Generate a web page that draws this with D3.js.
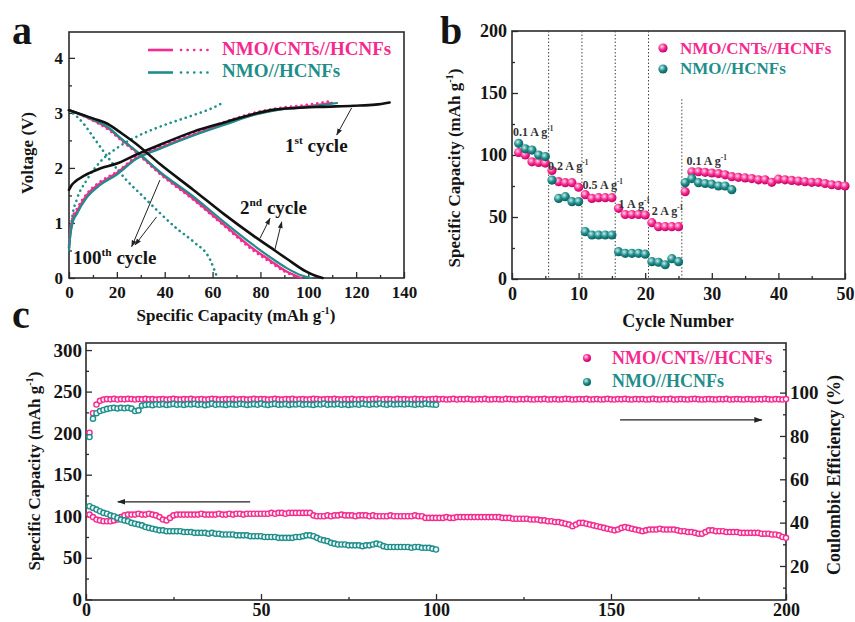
<!DOCTYPE html>
<html><head><meta charset="utf-8">
<script src="https://cdn.jsdelivr.net/npm/d3@7"></script>
<style>body{margin:0;background:#fff}svg{display:block}text{font-family:'Liberation Serif','Times New Roman',serif;font-weight:bold}</style>
</head><body><svg id="chart" width="855" height="622"></svg>
<script>
// ---------------- Panel a data (capacity mAh/g, voltage V) ----------------
const aXTicks=[0,20,40,60,80,100,120,140], aXMinor=[10,30,50,70,90,110,130];
const aYTicks=[0,1,2,3,4], aYMinor=[0.5,1.5,2.5,3.5];
const blackCharge=[[0,1.6],[1,1.68],[2.5,1.75],[6,1.85],[13,1.99],[20,2.08],[28,2.24],[38,2.42],[52,2.66],[66,2.84],[78,2.99],[86,3.06],[95,3.09],[105,3.11],[119,3.13],[128,3.15],[134,3.19]];
const blackDischarge=[[0,3.05],[10,2.9],[17,2.78],[21,2.66],[28,2.44],[38,2.07],[52,1.6],[64.5,1.17],[77,0.77],[84,0.56],[91,0.35],[99,0.12],[103,0.04],[106,0]];
const pinkCharge2=[[0,0.55],[0.5,0.8],[1.5,1.05],[3.2,1.2],[7.4,1.5],[13,1.72],[20,1.91],[28,2.17],[38,2.36],[52,2.6],[66,2.82],[78,2.98],[88,3.07],[100,3.12],[110,3.18]];
const pinkDischarge2=[[0,3.05],[10,2.87],[17,2.7],[21.3,2.54],[28.3,2.29],[38,1.91],[52,1.44],[64.5,0.98],[77,0.53],[84,0.32],[90,0.14],[97,0]];
const tealCharge2=[[0,0.5],[0.5,0.75],[1.5,1.0],[3.2,1.16],[7.4,1.46],[13,1.69],[20,1.88],[28,2.16],[38,2.35],[52,2.59],[66,2.8],[78,2.97],[88,3.06],[100,3.11],[112,3.18]];
const tealDischarge2=[[0,3.05],[10,2.88],[17,2.72],[21.3,2.55],[28.3,2.3],[38,1.93],[52,1.48],[64.5,1.03],[77,0.6],[84,0.38],[91,0.18],[97,0.05],[101,0]];
const pinkCharge100=[[0,0.6],[0.5,0.85],[1.5,1.1],[3.2,1.25],[7.4,1.53],[13,1.75],[20,1.93],[28,2.2],[38,2.39],[52,2.63],[66,2.85],[78,3.01],[88,3.09],[100,3.15],[110,3.22]];
const pinkDischarge100=[[0,3.05],[10,2.86],[17,2.68],[21.3,2.52],[28.3,2.27],[38,1.89],[52,1.42],[64.5,0.96],[77,0.5],[84,0.29],[90,0.12],[96,0]];
const tealCharge100=[[0,0.55],[0.4,0.75],[1.5,1.15],[3.2,1.42],[7.4,1.78],[13,2.11],[20,2.36],[28.3,2.57],[38,2.75],[52,2.96],[60,3.09],[65,3.2]];
const tealDischarge100=[[0,3.05],[6,2.81],[10,2.57],[17,2.15],[24,1.78],[31,1.48],[38,1.18],[45,0.9],[52,0.66],[59,0.33],[62,0]];

// ---------------- Panel b data (rate capability) ----------------
const bXTicks=[0,10,20,30,40,50], bXMinor=[5,15,25,35,45];
const bYTicks=[0,50,100,150,200], bYMinor=[25,75,125,175];
const bPink=[102,100,94.5,94,93.5,87.5,78.5,77.7,77.7,74, 68,65,65.6,65.6,65.6,57,52,52,52,51.6, 45.4,42.2,42.2,42.2,42.2,70.4,86.5,86.5,86,85.5, 85,84,82.5,82,81.5,81,80,80,78,80.5, 80,79.5,79,78.5,78,78,77,76,75.5,75];
const bTeal=[109.4,105,104,100,98.7,79.8,65,66.4,62.4,62.4, 38.2,35.5,35.5,35.5,35.5,22,20.7,20.7,20.7,20, 14,13.5,11.5,16.4,14,77.7,81,77.7,77,76.5, 75,75,72];
const bRateBounds=[5.5,10.5,15.5,20.5,25.5];
const bRateLabels=["0.1 A g","0.2 A g","0.5 A g","1 A g","2 A g","0.1 A g"];

// ---------------- Panel c data (cycling) ----------------
const cXTicks=[0,50,100,150,200], cXMinor=[25,75,125,175];
const cYTicks=[0,50,100,150,200,250,300], cYMinor=[25,75,125,175,225,275];
const cRTicks=[20,40,60,80,100], cRMinor=[10,30,50,70,90,110,120];
const pinkCap=[102,99,96,95,94,94,94,95,96,99, 101,102,102,102,103,102,102,103,102,101, 99,96,95,98,101,102,102,102,102,102,
 102,102,103,102,102,102,102,103,102,102, 103,102,103,103,102,103,103,103,103,103, 103,103,104,103,104,104,103,104,104,104,
 104,104,104,104,101,100,100,100,101,100, 101,101,102,101,101,101,100,101,101,101, 100,101,100,100,100,100,101,100,100,100,
 100,100,100,101,100,100,98,98,98,98, 98,98,99,98,98,99,99,99,99,99, 99,99,99,99,99,99,99,99,98,98,
 98,97,97,97,97,97,96,96,96,95, 95,94,94,93,93,92,91,90,88,90, 92,92,91,90,89,88,87,86,85,84,
 83,84,86,87,86,85,84,83,82,83, 84,84,84,85,84,84,84,84,83,82, 82,81,81,80,79,79,81,83,83,82,
 82,82,81,81,81,81,80,80,80,80, 80,80,79,79,79,78,78,77,75,74];
const pinkCE=[81.5,90.5,94.5,96.2,96.8,97.0,96.9,97.1,96.8,97.0, 96.9,97.1,97.0,96.8,97.0,96.9,97.1,96.9,97.0,96.8,
 96.9,97.0,96.8,96.9,97.1,96.9,96.8,97.0,96.9,97.1, 96.8,96.9,97.0,96.8,96.9,97.1,97.0,96.8,96.9,97.0,
 96.9,97.1,96.8,96.9,97.0,96.8,96.9,97.1,96.9,97.0, 97.0,96.8,96.9,97.1,96.9,96.8,97.0,96.9,97.1,96.8,
 96.9,97.0,96.8,96.9,97.1,97.0,96.8,96.9,97.0,96.9, 97.1,96.9,96.8,97.0,96.9,97.1,96.8,96.9,97.0,96.8,
 96.9,97.0,97.1,96.8,96.9,97.0,96.9,96.8,97.1,96.9, 97.0,96.8,96.9,97.1,96.9,97.0,96.8,96.9,97.0,97.1,
 96.9,97.0,96.8,96.9,97.1,96.8,97.0,96.9,97.1,96.9, 96.8,97.0,96.9,97.1,96.8,96.9,97.0,96.9,96.8,97.1,
 97.0,96.9,96.8,97.0,96.9,97.1,96.9,96.8,97.0,96.9, 97.1,96.8,96.9,97.0,96.8,96.9,97.1,97.0,96.8,96.9,
 97.0,96.9,97.1,96.8,96.9,97.0,96.8,96.9,97.1,96.9, 96.8,97.0,96.9,97.1,96.9,96.8,97.0,96.9,97.0,96.8,
 96.9,97.1,96.9,96.8,97.0,96.9,97.1,96.8,96.9,97.0, 96.9,96.8,97.0,97.1,96.9,96.8,96.9,97.0,96.9,96.8,
 97.0,96.9,97.1,96.8,96.9,97.0,96.9,96.8,97.0,96.9, 96.8,97.0,96.9,97.1,96.9,96.8,97.0,96.9,96.8,97.0];
const tealCap=[112,110,108,106,104,103,101,100,98,96, 95,94,92,91,90,89,87,86,85,84, 83,83,82,82,82,82,82,81,81,81,
 80,80,80,80,79,80,79,79,78,78, 78,78,77,77,77,77,76,76,76,76, 75,75,75,75,74,74,74,74,74,75,
 75,76,77,77,76,74,72,71,70,68, 67,66,66,66,65,65,65,65,64,65, 65,66,67,66,64,63,63,63,63,63,
 63,63,62,63,63,62,62,62,61,60];
const tealCE=[79.5,88.0,90.5,91.5,92.0,92.5,92.8,93.0,92.7,93.0, 92.8,93.0,92.6,91.5,91.8,94.0,94.3,94.5,94.2,94.6,
 94.4,94.7,94.3,94.5,94.8,94.4,94.6,94.3,94.7,94.5, 94.8,94.4,94.6,94.2,94.5,94.9,94.4,94.6,94.5,94.3,
 94.7,94.5,94.4,94.8,94.6,94.3,94.5,94.7,94.4,94.9, 94.5,94.3,94.6,94.8,94.4,94.5,94.7,94.3,94.6,94.5,
 94.8,94.4,94.6,94.5,94.3,94.7,94.5,94.9,94.4,94.6, 94.5,94.8,94.4,94.6,94.3,94.5,94.7,94.4,94.9,94.6,
 94.4,94.7,94.5,95.0,94.6,94.4,94.8,94.5,94.6,94.7, 94.5,94.8,94.6,94.4,94.7,94.5,94.9,94.6,94.5,94.4];

const seriesNames=["NMO/CNTs//HCNFs","NMO//HCNFs"];

// ---------------- Drawing ----------------
const PINK="#f52a8e", TEAL="#1f8e8b", AX="#2b2b2b", TXT="#141414";
const svg=d3.select("#chart");
svg.append("rect").attr("width",855).attr("height",622).attr("fill","#fff");
const defs=svg.append("defs");
function ball(id,c0,c1,c2){
  const g=defs.append("radialGradient").attr("id",id).attr("cx","38%").attr("cy","35%").attr("r","65%");
  g.append("stop").attr("offset","0%").attr("stop-color",c0);
  g.append("stop").attr("offset","55%").attr("stop-color",c1);
  g.append("stop").attr("offset","100%").attr("stop-color",c2);
}
ball("gPink","#ffd6ea",PINK,"#c3006a");
ball("gTeal","#c9eeee",TEAL,"#0b5e5c");
defs.append("marker").attr("id","arr").attr("viewBox","0 0 10 10").attr("refX",9).attr("refY",5)
  .attr("markerWidth",7).attr("markerHeight",7).attr("orient","auto-start-reverse")
  .append("path").attr("d","M0,1.5 L10,5 L0,8.5 Z").attr("fill","#222");

function frame(x,y){
  svg.append("rect").attr("x",x.range()[0]).attr("y",y.range()[1])
    .attr("width",x.range()[1]-x.range()[0]).attr("height",y.range()[0]-y.range()[1])
    .attr("fill","none").attr("stroke",AX).attr("stroke-width",1.6);
}
function axisDraw(gen,transform,fs){
  const g=svg.append("g").attr("transform",transform).call(gen);
  g.select(".domain").remove();
  g.selectAll("line").attr("stroke",AX).attr("stroke-width",1.3);
  g.selectAll("text").attr("font-size",fs).attr("fill",TXT);
  return g;
}
function rich(g,x,y,parts,fs,color,anchor,rot){
  const t=g.append("text").attr("font-size",fs).attr("fill",color||TXT).attr("text-anchor",anchor||"start");
  if(rot){t.attr("transform",`translate(${x},${y}) rotate(${rot})`);} else {t.attr("x",x).attr("y",y);}
  parts.forEach((p,i)=>{
    const ts=t.append("tspan").text(p[0]);
    if(p[1]){ts.attr("font-size",fs*0.6).attr("dy",-fs*0.42);}
    else if(i>0&&parts[i-1][1]){ts.attr("dy",fs*0.42);}
  });
  return t;
}
const capTitle=[["Specific Capacity (mAh g"],["-1",true],[")"]];

// ===== Panel a =====
const xa=d3.scaleLinear().domain([0,140]).range([69,404]);
const ya=d3.scaleLinear().domain([0,4.47]).range([278,32]);
frame(xa,ya);
axisDraw(d3.axisBottom(xa).tickValues(aXTicks).tickSize(-6).tickPadding(8).tickFormat(d3.format("d")),`translate(0,278)`,17);
axisDraw(d3.axisBottom(xa).tickValues(aXMinor).tickSize(-3).tickFormat(""),`translate(0,278)`,17);
axisDraw(d3.axisLeft(ya).tickValues(aYTicks).tickSize(-6).tickPadding(6).tickFormat(d3.format("d")),`translate(69,0)`,17);
axisDraw(d3.axisLeft(ya).tickValues(aYMinor).tickSize(-3).tickFormat(""),`translate(69,0)`,17);
const la=d3.line().x(d=>xa(d[0])).y(d=>ya(d[1])).curve(d3.curveMonotoneX);
const ga=svg.append("g");
function curve(data,color,w,dotted){
  const p=ga.append("path").attr("d",la(data)).attr("fill","none").attr("stroke",color).attr("stroke-width",w).attr("stroke-linecap","round");
  if(dotted)p.attr("stroke-dasharray","0.1,5.2").attr("stroke-width",w+0.6);
}
curve(pinkCharge100,PINK,2,true); curve(pinkDischarge100,PINK,2,true);
curve(pinkCharge2,PINK,2.4); curve(pinkDischarge2,PINK,2.4);
curve(tealCharge100,TEAL,2,true); curve(tealDischarge100,TEAL,2,true);
curve(tealCharge2,TEAL,2.2); curve(tealDischarge2,TEAL,2.2);
curve(blackCharge,"#111",2.6); curve(blackDischarge,"#111",2.6);
// legend a
[[PINK,50,55,seriesNames[0]],[TEAL,72.5,77,seriesNames[1]]].forEach(([c,ly,ty,name])=>{
  ga.append("line").attr("x1",148).attr("x2",173).attr("y1",ly).attr("y2",ly).attr("stroke",c).attr("stroke-width",2.6);
  ga.append("line").attr("x1",181).attr("x2",208).attr("y1",ly).attr("y2",ly).attr("stroke",c).attr("stroke-width",2.6).attr("stroke-linecap","round").attr("stroke-dasharray","0.1,6.5");
  ga.append("text").attr("x",222).attr("y",ty).attr("font-size",19).attr("fill",c).text(name);
});
// annotations a
function arrow(g,x1,y1,x2,y2){g.append("line").attr("x1",x1).attr("y1",y1).attr("x2",x2).attr("y2",y2).attr("stroke","#222").attr("stroke-width",1).attr("marker-end","url(#arr)");}
arrow(ga,xa(118.1),ya(3.09),xa(111.9),ya(2.6));
rich(ga,285,152,[["1"],["st",true],[" cycle"]],19);
arrow(ga,xa(79.8),ya(0.72),xa(84),ya(1.085));
arrow(ga,xa(86),ya(0.51),xa(88.9),ya(1.02));
rich(ga,240,214,[["2"],["nd",true],[" cycle"]],19);
arrow(ga,xa(38),ya(1.78),xa(26.2),ya(0.57));
arrow(ga,xa(36.6),ya(1.11),xa(27.6),ya(0.6));
rich(ga,73,264,[["100"],["th",true],[" cycle"]],19);
rich(svg,33,153,[["Voltage (V)"]],17,TXT,"middle",-90);
rich(svg,236,321,capTitle,17,TXT,"middle");
svg.append("text").attr("x",12).attr("y",44).attr("font-size",40).attr("fill",TXT).text("a");

// ===== Panel b =====
const xb=d3.scaleLinear().domain([0,50]).range([512,845]);
const yb=d3.scaleLinear().domain([0,200]).range([279,31]);
frame(xb,yb);
axisDraw(d3.axisBottom(xb).tickValues(bXTicks).tickSize(-6).tickPadding(8).tickFormat(d3.format("d")),`translate(0,279)`,18);
axisDraw(d3.axisBottom(xb).tickValues(bXMinor).tickSize(-3).tickFormat(""),`translate(0,279)`,18);
axisDraw(d3.axisLeft(yb).tickValues(bYTicks).tickSize(-6).tickPadding(5).tickFormat(d3.format("d")),`translate(512,0)`,18);
axisDraw(d3.axisLeft(yb).tickValues(bYMinor).tickSize(-3).tickFormat(""),`translate(512,0)`,18);
const gb=svg.append("g");
bRateBounds.forEach((c,i)=>{
  gb.append("line").attr("x1",xb(c)).attr("x2",xb(c)).attr("y1",i<4?yb(200):yb(145)).attr("y2",yb(0))
    .attr("stroke","#444").attr("stroke-width",1).attr("stroke-dasharray","1.5,2");
});
gb.selectAll(".pb").data(bPink).join("circle").attr("cx",(d,i)=>xb(i+1)).attr("cy",d=>yb(d)).attr("r",4.6).attr("fill","url(#gPink)");
gb.selectAll(".tb").data(bTeal).join("circle").attr("cx",(d,i)=>xb(i+1)).attr("cy",d=>yb(d)).attr("r",4.6).attr("fill","url(#gTeal)");
const rateAnchor=[[0.15,115],[5.4,88],[10.6,72.5],[16,57],[21,51.5],[26.2,92]];
bRateLabels.forEach((s,i)=>{
  rich(gb,xb(rateAnchor[i][0]),yb(rateAnchor[i][1]),[[s],["-1",true]],12,"#333");
});
// legend b
[[ "url(#gPink)",PINK,48,54,seriesNames[0]],["url(#gTeal)",TEAL,69,74,seriesNames[1]]].forEach(([f,c,cy,ty,name])=>{
  gb.append("circle").attr("cx",663).attr("cy",cy).attr("r",4.6).attr("fill",f);
  gb.append("text").attr("x",680).attr("y",ty).attr("font-size",17).attr("fill",c).text(name);
});
rich(svg,460,168,capTitle,17,TXT,"middle",-90);
svg.append("text").attr("x",678).attr("y",327).attr("text-anchor","middle").attr("font-size",18).attr("fill",TXT).text("Cycle Number");
svg.append("text").attr("x",440).attr("y",44).attr("font-size",40).attr("fill",TXT).text("b");

// ===== Panel c =====
const xc=d3.scaleLinear().domain([0,200]).range([86,786]);
const yc=d3.scaleLinear().domain([-0.8,308.5]).range([600,343]);
const yr=d3.scaleLinear().domain([4.3,122.9]).range([600,343]);
frame(xc,yc);
axisDraw(d3.axisBottom(xc).tickValues(cXTicks).tickSize(-6).tickPadding(3).tickFormat(d3.format("d")),`translate(0,600)`,18);
axisDraw(d3.axisBottom(xc).tickValues(cXMinor).tickSize(-3).tickFormat(""),`translate(0,600)`,18);
axisDraw(d3.axisLeft(yc).tickValues(cYTicks).tickSize(-6).tickPadding(4).tickFormat(d3.format("d")),`translate(86,0)`,19);
axisDraw(d3.axisLeft(yc).tickValues(cYMinor).tickSize(-3).tickFormat(""),`translate(86,0)`,19);
axisDraw(d3.axisRight(yr).tickValues(cRTicks).tickSize(-6).tickPadding(4).tickFormat(d3.format("d")),`translate(786,0)`,19);
axisDraw(d3.axisRight(yr).tickValues(cRMinor).tickSize(-3).tickFormat(""),`translate(786,0)`,19);
const gc=svg.append("g");
function rings(data,scale,color,fill){
  gc.append("g").selectAll("circle").data(data).join("circle")
    .attr("cx",(d,i)=>xc(i+1)).attr("cy",d=>scale(d)).attr("r",2.6)
    .attr("fill",fill).attr("stroke",color).attr("stroke-width",1.4);
}
rings(pinkCE,yr,PINK,"#fff3f9");
rings(tealCE,yr,TEAL,"#effafa");
rings(pinkCap,yc,PINK,"#fff3f9");
rings(tealCap,yc,TEAL,"#effafa");
// arrows c
gc.append("line").attr("x1",xc(46.9)).attr("x2",xc(9.1)).attr("y1",yc(117.4)).attr("y2",yc(117.4)).attr("stroke","#222").attr("stroke-width",1.2).attr("marker-end","url(#arr)");
gc.append("line").attr("x1",xc(152.6)).attr("x2",xc(193.1)).attr("y1",yr(87.4)).attr("y2",yr(87.4)).attr("stroke","#222").attr("stroke-width",1.2).attr("marker-end","url(#arr)");
// legend c
[["url(#gPink)",PINK,358,364,seriesNames[0]],["url(#gTeal)",TEAL,382,387,seriesNames[1]]].forEach(([f,c,cy,ty,name])=>{
  gc.append("circle").attr("cx",587).attr("cy",cy).attr("r",4).attr("fill",f);
  gc.append("text").attr("x",612).attr("y",ty).attr("font-size",18).attr("fill",c).text(name);
});
rich(svg,40,471,capTitle,17,TXT,"middle",-90);
rich(svg,840,475,[["Coulombic Efficiency (%)"]],18,TXT,"middle",-90);
svg.append("text").attr("x",12).attr("y",328).attr("font-size",40).attr("fill",TXT).text("c");
</script></body></html>
